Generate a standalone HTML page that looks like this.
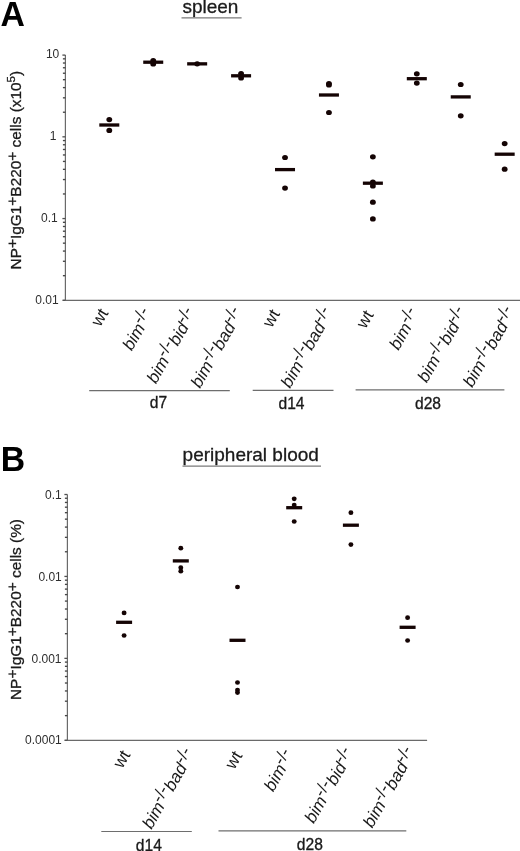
<!DOCTYPE html>
<html><head><meta charset="utf-8"><style>
html,body{margin:0;padding:0;background:#fff;}
body{width:520px;height:851px;overflow:hidden;font-family:"Liberation Sans",sans-serif;}
svg{display:block;will-change:transform;}
text{stroke:#1a1a1a;stroke-width:0.3px;}
text.k{stroke:none;}
</style></head><body>
<svg width="520" height="851" viewBox="0 0 520 851" font-family="Liberation Sans, sans-serif">
<rect width="520" height="851" fill="#fff"/>
<text x="0" y="0" font-size="33.8" font-weight="bold" fill="#000" class="k" transform="translate(0.55,25.5) scale(1,1.045)">A</text>
<text x="0" y="0" font-size="33.8" font-weight="bold" fill="#000" class="k" transform="translate(0.64,471.2) scale(1,1.045)">B</text>
<text x="182.4" y="13.2" font-size="19" fill="#1a1a1a">spleen</text>
<line x1="181.5" y1="17.9" x2="241.6" y2="17.9" stroke="#7a7a7a" stroke-width="1.4"/>
<text x="182.6" y="461.0" font-size="19" fill="#1a1a1a">peripheral blood</text>
<line x1="182.5" y1="466.1" x2="321" y2="466.1" stroke="#7a7a7a" stroke-width="1.4"/>
<text x="0" y="0" font-size="15.4" fill="#1a1a1a" transform="translate(21.4,269.4) rotate(-90)">NP<tspan dy="-4.7">+</tspan><tspan dy="4.7">IgG1</tspan><tspan dy="-4.7">+</tspan><tspan dy="4.7">B220</tspan><tspan dy="-4.7">+</tspan><tspan dy="4.7"> cells (x10<tspan dy="-6.7" font-size="11.5">5</tspan><tspan dy="6.7">)</tspan></tspan></text>
<text x="0" y="0" font-size="15.4" fill="#1a1a1a" transform="translate(21.3,700.0) rotate(-90)">NP<tspan dy="-4.7">+</tspan><tspan dy="4.7">IgG1</tspan><tspan dy="-4.7">+</tspan><tspan dy="4.7">B220</tspan><tspan dy="-4.7">+</tspan><tspan dy="4.7"> cells (%)</tspan></text>
<line x1="65.4" y1="55.1" x2="65.4" y2="300.79" stroke="#6a6a6a" stroke-width="1.2"/>
<line x1="63.2" y1="300.29" x2="520" y2="300.29" stroke="#6a6a6a" stroke-width="1.2"/>
<line x1="62.400000000000006" y1="55.10" x2="65.4" y2="55.10" stroke="#505050" stroke-width="1.3"/>
<line x1="62.900000000000006" y1="112.23" x2="65.4" y2="112.23" stroke="#484848" stroke-width="1.35"/>
<line x1="62.900000000000006" y1="97.83" x2="65.4" y2="97.83" stroke="#484848" stroke-width="1.35"/>
<line x1="62.900000000000006" y1="87.62" x2="65.4" y2="87.62" stroke="#484848" stroke-width="1.35"/>
<line x1="62.900000000000006" y1="79.70" x2="65.4" y2="79.70" stroke="#484848" stroke-width="1.35"/>
<line x1="62.900000000000006" y1="73.23" x2="65.4" y2="73.23" stroke="#484848" stroke-width="1.35"/>
<line x1="62.900000000000006" y1="67.76" x2="65.4" y2="67.76" stroke="#484848" stroke-width="1.35"/>
<line x1="62.900000000000006" y1="63.02" x2="65.4" y2="63.02" stroke="#484848" stroke-width="1.35"/>
<line x1="62.900000000000006" y1="58.84" x2="65.4" y2="58.84" stroke="#484848" stroke-width="1.35"/>
<line x1="62.400000000000006" y1="136.83" x2="65.4" y2="136.83" stroke="#505050" stroke-width="1.3"/>
<line x1="62.900000000000006" y1="193.96" x2="65.4" y2="193.96" stroke="#484848" stroke-width="1.35"/>
<line x1="62.900000000000006" y1="179.56" x2="65.4" y2="179.56" stroke="#484848" stroke-width="1.35"/>
<line x1="62.900000000000006" y1="169.35" x2="65.4" y2="169.35" stroke="#484848" stroke-width="1.35"/>
<line x1="62.900000000000006" y1="161.43" x2="65.4" y2="161.43" stroke="#484848" stroke-width="1.35"/>
<line x1="62.900000000000006" y1="154.96" x2="65.4" y2="154.96" stroke="#484848" stroke-width="1.35"/>
<line x1="62.900000000000006" y1="149.49" x2="65.4" y2="149.49" stroke="#484848" stroke-width="1.35"/>
<line x1="62.900000000000006" y1="144.75" x2="65.4" y2="144.75" stroke="#484848" stroke-width="1.35"/>
<line x1="62.900000000000006" y1="140.57" x2="65.4" y2="140.57" stroke="#484848" stroke-width="1.35"/>
<line x1="62.400000000000006" y1="218.56" x2="65.4" y2="218.56" stroke="#505050" stroke-width="1.3"/>
<line x1="62.900000000000006" y1="275.69" x2="65.4" y2="275.69" stroke="#484848" stroke-width="1.35"/>
<line x1="62.900000000000006" y1="261.29" x2="65.4" y2="261.29" stroke="#484848" stroke-width="1.35"/>
<line x1="62.900000000000006" y1="251.08" x2="65.4" y2="251.08" stroke="#484848" stroke-width="1.35"/>
<line x1="62.900000000000006" y1="243.16" x2="65.4" y2="243.16" stroke="#484848" stroke-width="1.35"/>
<line x1="62.900000000000006" y1="236.69" x2="65.4" y2="236.69" stroke="#484848" stroke-width="1.35"/>
<line x1="62.900000000000006" y1="231.22" x2="65.4" y2="231.22" stroke="#484848" stroke-width="1.35"/>
<line x1="62.900000000000006" y1="226.48" x2="65.4" y2="226.48" stroke="#484848" stroke-width="1.35"/>
<line x1="62.900000000000006" y1="222.30" x2="65.4" y2="222.30" stroke="#484848" stroke-width="1.35"/>
<line x1="62.400000000000006" y1="300.29" x2="65.4" y2="300.29" stroke="#505050" stroke-width="1.3"/>
<text x="59.3" y="57.7" text-anchor="end" font-size="12" fill="#2e2e2e" class="k">10</text>
<text x="56.5" y="139.7" text-anchor="end" font-size="12" fill="#2e2e2e" class="k">1</text>
<text x="57.8" y="221.7" text-anchor="end" font-size="12" fill="#2e2e2e" class="k">0.1</text>
<text x="58.7" y="303.7" text-anchor="end" font-size="12" fill="#2e2e2e" class="k">0.01</text>
<line x1="67.4" y1="494.5" x2="67.4" y2="740.79" stroke="#6a6a6a" stroke-width="1.2"/>
<line x1="65.2" y1="740.29" x2="427.1" y2="740.29" stroke="#6a6a6a" stroke-width="1.2"/>
<line x1="64.4" y1="494.50" x2="67.4" y2="494.50" stroke="#505050" stroke-width="1.3"/>
<line x1="64.9" y1="551.77" x2="67.4" y2="551.77" stroke="#484848" stroke-width="1.35"/>
<line x1="64.9" y1="537.34" x2="67.4" y2="537.34" stroke="#484848" stroke-width="1.35"/>
<line x1="64.9" y1="527.10" x2="67.4" y2="527.10" stroke="#484848" stroke-width="1.35"/>
<line x1="64.9" y1="519.16" x2="67.4" y2="519.16" stroke="#484848" stroke-width="1.35"/>
<line x1="64.9" y1="512.68" x2="67.4" y2="512.68" stroke="#484848" stroke-width="1.35"/>
<line x1="64.9" y1="507.19" x2="67.4" y2="507.19" stroke="#484848" stroke-width="1.35"/>
<line x1="64.9" y1="502.44" x2="67.4" y2="502.44" stroke="#484848" stroke-width="1.35"/>
<line x1="64.9" y1="498.25" x2="67.4" y2="498.25" stroke="#484848" stroke-width="1.35"/>
<line x1="64.4" y1="576.43" x2="67.4" y2="576.43" stroke="#505050" stroke-width="1.3"/>
<line x1="64.9" y1="633.70" x2="67.4" y2="633.70" stroke="#484848" stroke-width="1.35"/>
<line x1="64.9" y1="619.27" x2="67.4" y2="619.27" stroke="#484848" stroke-width="1.35"/>
<line x1="64.9" y1="609.03" x2="67.4" y2="609.03" stroke="#484848" stroke-width="1.35"/>
<line x1="64.9" y1="601.09" x2="67.4" y2="601.09" stroke="#484848" stroke-width="1.35"/>
<line x1="64.9" y1="594.61" x2="67.4" y2="594.61" stroke="#484848" stroke-width="1.35"/>
<line x1="64.9" y1="589.12" x2="67.4" y2="589.12" stroke="#484848" stroke-width="1.35"/>
<line x1="64.9" y1="584.37" x2="67.4" y2="584.37" stroke="#484848" stroke-width="1.35"/>
<line x1="64.9" y1="580.18" x2="67.4" y2="580.18" stroke="#484848" stroke-width="1.35"/>
<line x1="64.4" y1="658.36" x2="67.4" y2="658.36" stroke="#505050" stroke-width="1.3"/>
<line x1="64.9" y1="715.63" x2="67.4" y2="715.63" stroke="#484848" stroke-width="1.35"/>
<line x1="64.9" y1="701.20" x2="67.4" y2="701.20" stroke="#484848" stroke-width="1.35"/>
<line x1="64.9" y1="690.96" x2="67.4" y2="690.96" stroke="#484848" stroke-width="1.35"/>
<line x1="64.9" y1="683.02" x2="67.4" y2="683.02" stroke="#484848" stroke-width="1.35"/>
<line x1="64.9" y1="676.54" x2="67.4" y2="676.54" stroke="#484848" stroke-width="1.35"/>
<line x1="64.9" y1="671.05" x2="67.4" y2="671.05" stroke="#484848" stroke-width="1.35"/>
<line x1="64.9" y1="666.30" x2="67.4" y2="666.30" stroke="#484848" stroke-width="1.35"/>
<line x1="64.9" y1="662.11" x2="67.4" y2="662.11" stroke="#484848" stroke-width="1.35"/>
<line x1="64.4" y1="740.29" x2="67.4" y2="740.29" stroke="#505050" stroke-width="1.3"/>
<text x="61.8" y="498.7" text-anchor="end" font-size="12" fill="#2e2e2e" class="k">0.1</text>
<text x="61.8" y="581.1" text-anchor="end" font-size="12" fill="#2e2e2e" class="k">0.01</text>
<text x="61.5" y="663.1" text-anchor="end" font-size="12" fill="#2e2e2e" class="k">0.001</text>
<text x="61.8" y="744.4" text-anchor="end" font-size="12" fill="#2e2e2e" class="k">0.0001</text>
<ellipse cx="109.3" cy="119.6" rx="2.9" ry="2.6" fill="#140404"/>
<ellipse cx="109.3" cy="130.4" rx="2.9" ry="2.6" fill="#140404"/>
<rect x="99.30" y="123.35" width="20" height="3.3" fill="#140404"/>
<ellipse cx="153.23" cy="60.5" rx="2.9" ry="2.6" fill="#140404"/>
<ellipse cx="153.23" cy="64.0" rx="2.9" ry="2.6" fill="#140404"/>
<rect x="143.23" y="60.55" width="20" height="3.3" fill="#140404"/>
<ellipse cx="197.16" cy="63.8" rx="2.9" ry="2.6" fill="#140404"/>
<rect x="187.16" y="62.20" width="20" height="3.3" fill="#140404"/>
<ellipse cx="241.08999999999997" cy="73.6" rx="2.9" ry="2.6" fill="#140404"/>
<ellipse cx="241.08999999999997" cy="78.0" rx="2.9" ry="2.6" fill="#140404"/>
<rect x="231.09" y="74.15" width="20" height="3.3" fill="#140404"/>
<ellipse cx="285.02" cy="157.5" rx="2.9" ry="2.6" fill="#140404"/>
<ellipse cx="285.02" cy="188.1" rx="2.9" ry="2.6" fill="#140404"/>
<rect x="275.02" y="167.95" width="20" height="3.3" fill="#140404"/>
<ellipse cx="328.95" cy="83.6" rx="2.9" ry="2.6" fill="#140404"/>
<ellipse cx="328.95" cy="84.9" rx="2.9" ry="2.6" fill="#140404"/>
<ellipse cx="328.95" cy="112.5" rx="2.9" ry="2.6" fill="#140404"/>
<rect x="318.95" y="93.35" width="20" height="3.3" fill="#140404"/>
<ellipse cx="372.88" cy="156.8" rx="2.9" ry="2.6" fill="#140404"/>
<ellipse cx="372.88" cy="182.2" rx="2.9" ry="2.6" fill="#140404"/>
<ellipse cx="372.88" cy="186.0" rx="2.9" ry="2.6" fill="#140404"/>
<ellipse cx="372.88" cy="202.2" rx="2.9" ry="2.6" fill="#140404"/>
<ellipse cx="372.88" cy="218.9" rx="2.9" ry="2.6" fill="#140404"/>
<rect x="362.88" y="181.55" width="20" height="3.3" fill="#140404"/>
<ellipse cx="416.81" cy="73.8" rx="2.9" ry="2.6" fill="#140404"/>
<ellipse cx="416.81" cy="83.1" rx="2.9" ry="2.6" fill="#140404"/>
<rect x="406.81" y="77.05" width="20" height="3.3" fill="#140404"/>
<ellipse cx="460.74" cy="84.5" rx="2.9" ry="2.6" fill="#140404"/>
<ellipse cx="460.74" cy="115.8" rx="2.9" ry="2.6" fill="#140404"/>
<rect x="450.74" y="95.25" width="20" height="3.3" fill="#140404"/>
<ellipse cx="504.67" cy="143.6" rx="2.9" ry="2.6" fill="#140404"/>
<ellipse cx="504.67" cy="169.2" rx="2.9" ry="2.6" fill="#140404"/>
<rect x="494.67" y="152.55" width="20" height="3.3" fill="#140404"/>
<ellipse cx="124.1" cy="612.9" rx="2.45" ry="2.35" fill="#140404"/>
<ellipse cx="124.1" cy="635.5" rx="2.45" ry="2.35" fill="#140404"/>
<rect x="116.10" y="620.65" width="16" height="3.3" fill="#140404"/>
<ellipse cx="180.8" cy="548.2" rx="2.45" ry="2.35" fill="#140404"/>
<ellipse cx="180.8" cy="567.7" rx="2.45" ry="2.35" fill="#140404"/>
<ellipse cx="180.8" cy="571.2" rx="2.45" ry="2.35" fill="#140404"/>
<rect x="172.80" y="559.25" width="16" height="3.3" fill="#140404"/>
<ellipse cx="237.5" cy="587.0" rx="2.45" ry="2.35" fill="#140404"/>
<ellipse cx="237.5" cy="682.5" rx="2.45" ry="2.35" fill="#140404"/>
<ellipse cx="237.5" cy="690.0" rx="2.45" ry="2.35" fill="#140404"/>
<ellipse cx="237.5" cy="692.6" rx="2.45" ry="2.35" fill="#140404"/>
<rect x="229.50" y="638.65" width="16" height="3.3" fill="#140404"/>
<ellipse cx="294.20000000000005" cy="498.8" rx="2.45" ry="2.35" fill="#140404"/>
<ellipse cx="294.20000000000005" cy="505.0" rx="2.45" ry="2.35" fill="#140404"/>
<ellipse cx="294.20000000000005" cy="521.5" rx="2.45" ry="2.35" fill="#140404"/>
<rect x="286.20" y="506.05" width="16" height="3.3" fill="#140404"/>
<ellipse cx="350.9" cy="512.7" rx="2.45" ry="2.35" fill="#140404"/>
<ellipse cx="350.9" cy="544.6" rx="2.45" ry="2.35" fill="#140404"/>
<rect x="342.90" y="523.55" width="16" height="3.3" fill="#140404"/>
<ellipse cx="407.6" cy="617.7" rx="2.45" ry="2.35" fill="#140404"/>
<ellipse cx="407.6" cy="640.5" rx="2.45" ry="2.35" fill="#140404"/>
<rect x="399.60" y="625.65" width="16" height="3.3" fill="#140404"/>
<text x="0" y="0" text-anchor="end" font-size="17.1" fill="#1a1a1a" class="k" transform="translate(108.80,312.80) rotate(-60)"><tspan>wt</tspan></text>
<text x="0" y="0" text-anchor="end" font-size="17.1" fill="#1a1a1a" class="k" transform="translate(153.60,313.60) rotate(-60)"><tspan font-style="italic">bim</tspan><tspan baseline-shift="28%" font-size="17.10">-/-</tspan></text>
<text x="0" y="0" text-anchor="end" font-size="17.1" fill="#1a1a1a" class="k" transform="translate(197.20,313.00) rotate(-60)"><tspan font-style="italic">bim</tspan><tspan baseline-shift="28%" font-size="17.10">-/-</tspan><tspan font-style="italic">bid</tspan><tspan baseline-shift="28%" font-size="17.10">-/-</tspan></text>
<text x="0" y="0" text-anchor="end" font-size="17.1" fill="#1a1a1a" class="k" transform="translate(244.10,312.50) rotate(-60)"><tspan font-style="italic">bim</tspan><tspan baseline-shift="28%" font-size="17.10">-/-</tspan><tspan font-style="italic">bad</tspan><tspan baseline-shift="28%" font-size="17.10">-/-</tspan></text>
<text x="0" y="0" text-anchor="end" font-size="17.1" fill="#1a1a1a" class="k" transform="translate(280.40,313.60) rotate(-60)"><tspan>wt</tspan></text>
<text x="0" y="0" text-anchor="end" font-size="17.1" fill="#1a1a1a" class="k" transform="translate(334.20,312.50) rotate(-60)"><tspan font-style="italic">bim</tspan><tspan baseline-shift="28%" font-size="17.10">-/-</tspan><tspan font-style="italic">bad</tspan><tspan baseline-shift="28%" font-size="17.10">-/-</tspan></text>
<text x="0" y="0" text-anchor="end" font-size="17.1" fill="#1a1a1a" class="k" transform="translate(374.00,314.60) rotate(-60)"><tspan>wt</tspan></text>
<text x="0" y="0" text-anchor="end" font-size="17.1" fill="#1a1a1a" class="k" transform="translate(420.30,313.10) rotate(-60)"><tspan font-style="italic">bim</tspan><tspan baseline-shift="28%" font-size="17.10">-/-</tspan></text>
<text x="0" y="0" text-anchor="end" font-size="17.1" fill="#1a1a1a" class="k" transform="translate(468.10,312.00) rotate(-60)"><tspan font-style="italic">bim</tspan><tspan baseline-shift="28%" font-size="17.10">-/-</tspan><tspan font-style="italic">bid</tspan><tspan baseline-shift="28%" font-size="17.10">-/-</tspan></text>
<text x="0" y="0" text-anchor="end" font-size="17.1" fill="#1a1a1a" class="k" transform="translate(516.50,311.80) rotate(-60)"><tspan font-style="italic">bim</tspan><tspan baseline-shift="28%" font-size="17.10">-/-</tspan><tspan font-style="italic">bad</tspan><tspan baseline-shift="28%" font-size="17.10">-/-</tspan></text>
<text x="0" y="0" text-anchor="end" font-size="17.1" fill="#1a1a1a" class="k" transform="translate(130.80,754.55) rotate(-60)"><tspan>wt</tspan></text>
<text x="0" y="0" text-anchor="end" font-size="17.1" fill="#1a1a1a" class="k" transform="translate(195.60,753.55) rotate(-60)"><tspan font-style="italic">bim</tspan><tspan baseline-shift="28%" font-size="17.10">-/-</tspan><tspan font-style="italic">bad</tspan><tspan baseline-shift="28%" font-size="17.10">-/-</tspan></text>
<text x="0" y="0" text-anchor="end" font-size="17.1" fill="#1a1a1a" class="k" transform="translate(242.90,755.35) rotate(-60)"><tspan>wt</tspan></text>
<text x="0" y="0" text-anchor="end" font-size="17.1" fill="#1a1a1a" class="k" transform="translate(295.00,754.55) rotate(-60)"><tspan font-style="italic">bim</tspan><tspan baseline-shift="28%" font-size="17.10">-/-</tspan></text>
<text x="0" y="0" text-anchor="end" font-size="17.1" fill="#1a1a1a" class="k" transform="translate(355.00,752.75) rotate(-60)"><tspan font-style="italic">bim</tspan><tspan baseline-shift="28%" font-size="17.10">-/-</tspan><tspan font-style="italic">bid</tspan><tspan baseline-shift="28%" font-size="17.10">-/-</tspan></text>
<text x="0" y="0" text-anchor="end" font-size="17.1" fill="#1a1a1a" class="k" transform="translate(416.50,752.25) rotate(-60)"><tspan font-style="italic">bim</tspan><tspan baseline-shift="28%" font-size="17.10">-/-</tspan><tspan font-style="italic">bad</tspan><tspan baseline-shift="28%" font-size="17.10">-/-</tspan></text>
<line x1="89.2" y1="390.6" x2="229.8" y2="390.6" stroke="#6e6e6e" stroke-width="1.2"/>
<text x="158.4" y="408.0" text-anchor="middle" font-size="15.6" fill="#1a1a1a">d7</text>
<line x1="252.7" y1="390.4" x2="333.5" y2="390.4" stroke="#6e6e6e" stroke-width="1.2"/>
<text x="291.5" y="409.1" text-anchor="middle" font-size="15.6" fill="#1a1a1a">d14</text>
<line x1="355.6" y1="389.9" x2="504.4" y2="389.9" stroke="#6e6e6e" stroke-width="1.2"/>
<text x="428.0" y="408.5" text-anchor="middle" font-size="15.6" fill="#1a1a1a">d28</text>
<line x1="101.3" y1="831.5" x2="191.8" y2="831.5" stroke="#6e6e6e" stroke-width="1.2"/>
<text x="148.8" y="850.8" text-anchor="middle" font-size="15.6" fill="#1a1a1a">d14</text>
<line x1="218.5" y1="830.9" x2="406.3" y2="830.9" stroke="#6e6e6e" stroke-width="1.2"/>
<text x="309.8" y="849.6" text-anchor="middle" font-size="15.6" fill="#1a1a1a">d28</text>
</svg>
</body></html>
